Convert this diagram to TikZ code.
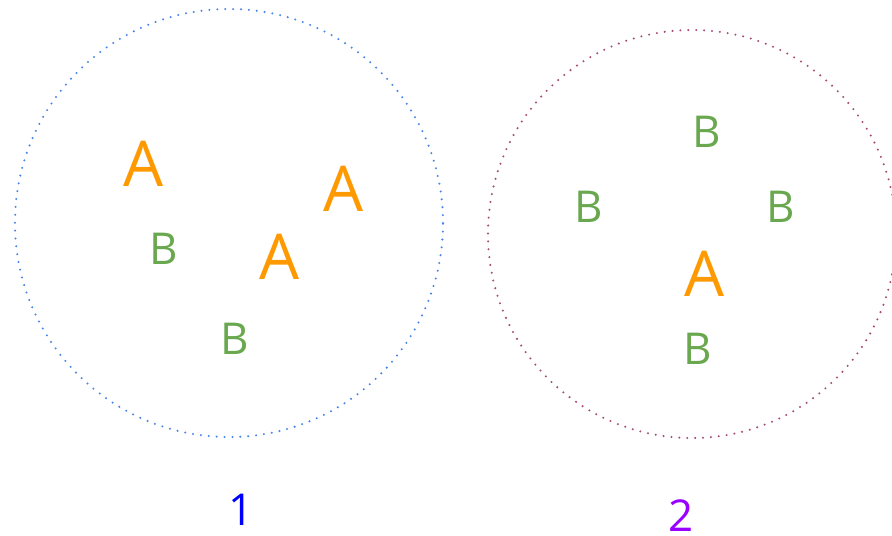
\documentclass[tikz,border=0pt]{standalone}
\usepackage{fontspec}
\setmainfont{Open Sans}
\definecolor{ringblue}{RGB}{74, 134, 232}
\definecolor{ringplum}{RGB}{166, 77, 121}
\definecolor{letterA}{RGB}{255, 153, 0}
\definecolor{letterB}{RGB}{106, 168, 79}
\definecolor{labelone}{RGB}{0, 0, 255}
\definecolor{labeltwo}{RGB}{153, 0, 255}
\usepackage{tikz}

\begin{document}
\begin{tikzpicture}[x=0.02cm, y=-0.02cm,
        ring/.style={line width=1.3pt, line cap=round, dash pattern=on 0pt off 4.5pt},
        atom/.style={inner sep=0pt, text=letterA, font=\fontsize{36}{36}\selectfont},
        btom/.style={inner sep=0pt, text=letterB, font=\fontsize{25}{25}\selectfont},
        tag/.style={inner sep=0pt, font=\fontsize{25}{25}\selectfont}
      ]
        \useasboundingbox (0, 0) rectangle (892, 535);
        \clip (0, 0) rectangle (892, 535);
        \draw[ring, color=ringblue] (229, 223) circle [radius=214*0.02cm];
        \draw[ring, color=ringplum] (692, 234) circle [radius=204*0.02cm];
        % left group
        \node[atom] (a1) at (144, 164) {A};
        \node[btom] (b1) at (164, 249) {B};
        \node[atom] (a2) at (280, 257) {A};
        \node[atom] (a3) at (344, 189) {A};
        \node[btom] (b2) at (235, 339) {B};
        % right group
        \node[btom] (b3) at (707, 132) {B};
        \node[btom] (b4) at (589, 207) {B};
        \node[btom] (b5) at (781, 207) {B};
        \node[atom] (a4) at (705, 274) {A};
        \node[btom] (b6) at (698, 349) {B};
        \node[tag, text=labelone] (one) at (241, 510) {1};
        \node[tag, text=labeltwo] (two) at (681, 516) {2};
      \end{tikzpicture}
\end{document}
